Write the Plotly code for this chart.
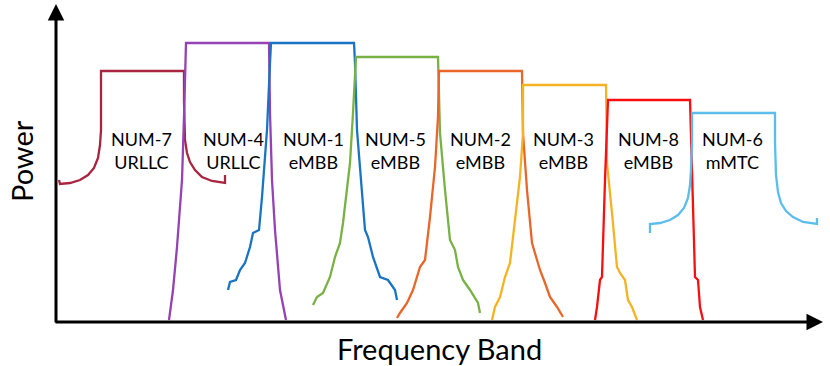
import plotly.graph_objects as go

# frequency (arbitrary units) / power (arbitrary units)
num7_f = [3, 4, 14, 24, 32, 38, 42, 44, 45, 45, 128, 128, 129, 131, 134, 139, 146, 156, 169, 169]
num7_p = [142, 138, 139, 142, 147, 154, 164, 177, 192, 251, 251, 220, 182, 169, 160, 152, 145, 141, 139, 147]

num4_f = [113, 117, 121, 126, 128, 130, 213, 214, 216, 219, 224, 230]
num4_p = [2, 32, 75, 142, 205, 279, 279, 209, 142, 92, 32, 2]

num1_f = [172, 174, 180, 184, 189, 194, 197, 203, 206, 211, 214, 215,
          298, 299, 301, 306, 309, 312, 317, 324, 332, 339, 341]
num1_p = [32, 40, 42, 52, 59, 75, 89, 92, 125, 192, 259, 279,
          279, 259, 192, 125, 92, 85, 65, 45, 42, 32, 22]

num5_f = [257, 261, 267, 274, 279, 284, 287, 294, 297, 300,
          382, 384, 389, 394, 399, 402, 407, 414, 422, 424]
num5_p = [17, 25, 29, 45, 65, 79, 99, 159, 209, 265,
          265, 189, 132, 82, 72, 55, 42, 32, 19, 9]

num2_f = [341, 344, 351, 357, 364, 369, 374, 379, 382, 383,
          466, 467, 471, 476, 481, 484, 489, 494, 501, 507]
num2_p = [4, 9, 19, 32, 55, 62, 105, 155, 205, 251,
          251, 189, 132, 79, 62, 52, 39, 25, 15, 5]

num3_f = [436, 439, 444, 449, 454, 459, 464, 467, 467,
          550, 551, 556, 561, 564, 569, 572, 576, 581]
num3_p = [2, 15, 25, 45, 59, 99, 145, 189, 237,
          237, 159, 109, 55, 49, 42, 22, 15, 2]

num8_f = [539, 541, 544, 546, 549, 552, 634, 636, 639, 642, 644, 647]
num8_p = [2, 15, 42, 45, 142, 222, 222, 142, 45, 42, 15, 2]

num6_f = [594, 594, 604, 614, 622, 628, 632, 634, 635, 636, 636,
          719, 719, 720, 722, 725, 730, 737, 747, 759, 761, 761]
num6_p = [89, 98, 99, 102, 107, 114, 124, 137, 152, 180, 209,
          209, 180, 147, 130, 119, 111, 105, 100, 98, 98, 104]

names = ["NUM-7", "NUM-4", "NUM-1", "NUM-5", "NUM-2", "NUM-3", "NUM-8", "NUM-6"]
services = ["URLLC", "URLLC", "eMBB", "eMBB", "eMBB", "eMBB", "eMBB", "mMTC"]
label_f = [85, 177, 257, 339, 424, 507, 592, 676]
label_p = [172, 172, 172, 172, 172, 172, 172, 172]

curves = [(num7_f, num7_p), (num4_f, num4_p), (num1_f, num1_p), (num5_f, num5_p),
          (num2_f, num2_p), (num3_f, num3_p), (num8_f, num8_p), (num6_f, num6_p)]
colors = ['#A8243F', '#9442B4', '#1A74C4', '#78B244',
          '#E9662A', '#F5B324', '#F81010', '#5BBDEB']

fig = go.Figure()
for (f, p), c, n in zip(curves, colors, names):
    fig.add_trace(go.Scatter(x=f, y=p, mode='lines', name=n,
                             line=dict(color=c, width=2.3), hoverinfo='skip'))

annotations = []
for n, s, x, y in zip(names, services, label_f, label_p):
    annotations.append(dict(text=n + '<br>' + s, x=x, y=y, showarrow=False,
                            font=dict(size=18, color='black', family='Lato')))

# axes drawn as arrows
annotations.append(dict(x=0, y=318, ax=0, ay=-2, xref='x', yref='y', axref='x', ayref='y',
                        text='', showarrow=True, arrowhead=2, arrowsize=1.1,
                        arrowwidth=3, arrowcolor='black'))
annotations.append(dict(x=767, y=0, ax=-2, ay=0, xref='x', yref='y', axref='x', ayref='y',
                        text='', showarrow=True, arrowhead=2, arrowsize=1.1,
                        arrowwidth=3, arrowcolor='black'))
annotations.append(dict(text='Frequency Band', x=383, y=-26, showarrow=False,
                        font=dict(size=29, color='black', family='Lato')))
annotations.append(dict(text='Power', x=-35, y=161, showarrow=False, textangle=-90,
                        font=dict(size=29, color='black', family='Lato')))

axis = dict(showline=False, zeroline=False, showgrid=False, showticklabels=False)

fig.update_layout(width=830, height=366,
                  margin=dict(l=0, r=0, t=0, b=0),
                  showlegend=False,
                  plot_bgcolor='white', paper_bgcolor='white',
                  xaxis=dict(axis, range=[-56, 774]),
                  yaxis=dict(axis, range=[-44, 322]),
                  annotations=annotations)

# drop the browser's default page margin so the figure sits at the corner
fig.write_html("out.html", config={'displayModeBar': False},
               post_script="document.body.style.margin='0';")
